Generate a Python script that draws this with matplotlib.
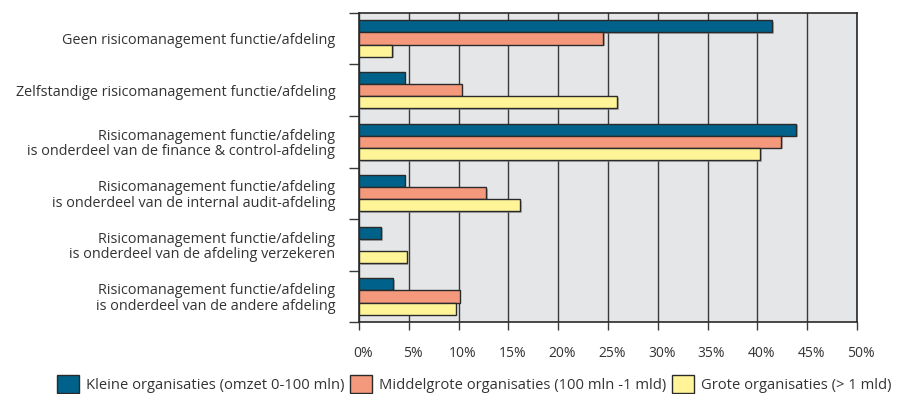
import matplotlib
matplotlib.use("Agg")
import matplotlib.pyplot as plt
import matplotlib.patheffects as pe
from matplotlib.transforms import ScaledTranslation
import numpy as np

categories = [
    "Geen risicomanagement functie/afdeling",
    "Zelfstandige risicomanagement functie/afdeling",
    "Risicomanagement functie/afdeling\nis onderdeel van de finance & control-afdeling",
    "Risicomanagement functie/afdeling\nis onderdeel van de internal audit-afdeling",
    "Risicomanagement functie/afdeling\nis onderdeel van de afdeling verzekeren",
    "Risicomanagement functie/afdeling\nis onderdeel van de andere afdeling",
]
kleine = [41.5, 4.6, 43.9, 4.6, 2.2, 3.4]
middel = [24.5, 10.3, 42.4, 12.8, 0.0, 10.1]
grote = [3.3, 25.9, 40.3, 16.2, 4.8, 9.7]
series_names = [
    "Kleine organisaties (omzet 0-100 mln)",
    "Middelgrote organisaties (100 mln -1 mld)",
    "Grote organisaties (> 1 mld)",
]
xticks = [0, 5, 10, 15, 20, 25, 30, 35, 40, 45, 50]
xticklabels = [f"{v}%" for v in xticks]

colors = ["#00628b", "#f4997b", "#fff598"]
text_color = "#333333"
plt.rcParams["font.family"] = ["Open Sans", "DejaVu Sans"]

fig = plt.figure(figsize=(8.98, 3.94), dpi=100)
ax = fig.add_axes([359 / 898, 1 - 322.3 / 394, 498 / 898, (322.3 - 12.7) / 394])
ax.set_facecolor("#e5e6e8")

y = np.arange(len(categories))
h = 0.235
offsets = [-h, 0, h]
shadow = [pe.SimplePatchShadow(offset=(1.2, -1.2), shadow_rgbFace="#888888", alpha=0.6), pe.Normal()]
handles = []
for vals, off, c, name in zip([kleine, middel, grote], offsets, colors, series_names):
    bars = ax.barh(y + off, vals, height=h, color=c, edgecolor="#2a2a2a", linewidth=1.0,
                   label=name, zorder=3)
    for b in bars:
        if b.get_width() > 0:
            b.set_path_effects(shadow)
        else:
            b.set_visible(False)
    handles.append(bars)

ax.set_xlim(0, 50)
ax.set_ylim(len(categories) - 0.5, -0.5)
ax.set_xticks(xticks)
ax.set_xticklabels(xticklabels, color=text_color, fontsize=10)
ax.xaxis.grid(True, color="#3a3a3a", linewidth=1.0, zorder=1)
ax.set_axisbelow(True)
ax.tick_params(axis="x", direction="out", length=6, width=1, color="#3a3a3a", pad=11)
shift = ScaledTranslation(4 / 100, 0, fig.dpi_scale_trans)
for lab in ax.get_xticklabels():
    lab.set_transform(lab.get_transform() + shift)

ax.set_yticks(y)
ax.set_yticklabels(categories, color=text_color, fontsize=10.4, linespacing=1.05)
ax.tick_params(axis="y", which="major", length=0, pad=17)
ax.set_yticks(np.arange(len(categories) + 1) - 0.5, minor=True)
ax.tick_params(axis="y", which="minor", direction="out", length=7, width=1, color="#3a3a3a")

for s in ax.spines.values():
    s.set_color("#2a2a2a")
    s.set_linewidth(1.2)

leg = fig.legend(handles=handles, labels=series_names, loc="center", ncol=3,
                 bbox_to_anchor=(474 / 898, 1 - 384 / 394), frameon=False, fontsize=10.6,
                 handlelength=1.5, handleheight=1.5, handletextpad=0.45, columnspacing=0.4,
                 labelcolor=text_color, borderpad=0.0, borderaxespad=0.0)
for p in leg.get_patches():
    p.set_path_effects([])

fig.savefig("out.png", dpi=100)
